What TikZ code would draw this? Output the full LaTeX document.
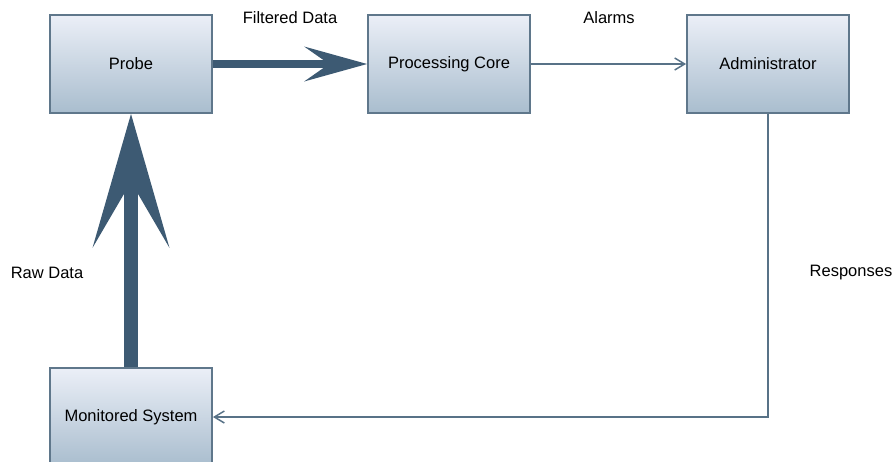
\documentclass[tikz,border=0pt]{standalone}
\usepackage{fontspec}
\setmainfont{Liberation Sans}
\usetikzlibrary{arrows.meta}
\definecolor{boxtop}{HTML}{EBEFF7}
\definecolor{boxbot}{HTML}{A9BDCE}
\definecolor{boxedge}{HTML}{5F778B}
\definecolor{flow}{HTML}{3D5A73}
\definecolor{thin}{HTML}{587287}
\tikzset{
  block/.style={draw=boxedge, line width=1.8pt, top color=boxtop, bottom color=boxbot,
    minimum width=162pt, minimum height=98pt, inner sep=0pt,
    font=\fontsize{16.5}{19}\selectfont, text=black},
  lbl/.style={font=\fontsize{16.5}{19}\selectfont, text=black, inner sep=0pt},
  bigflow/.style={draw=flow, line width=8pt, shorten >=30pt},
  hugeflow/.style={draw=flow, line width=14pt, shorten >=60pt},
  headfill/.style={fill=flow},
  thinflow/.style={draw=thin, line width=1.5pt,
    -{Straight Barb[length=10pt, width=12pt]}}
}
\begin{document}
\begin{tikzpicture}[x=1pt, y=-1pt]
  \useasboundingbox (0,0) rectangle (896,461);
  \node[block] (probe) at (131,64) {Probe};
  \node[block] (core) at (449,64) {Processing Core};
  \node[block] (admin) at (768,64) {Administrator};
  \node[block] (mon) at (131,417) {Monitored System};

  % filtered data: heavy flow with a large notched head
  \draw[bigflow] (probe.east) -- (core.west);
  \fill[headfill] (core.west) -- ++(-63,-17.5) -- ++(25,17.5) -- ++(-25,17.5) -- cycle;

  % raw data: heaviest flow, upwards into the probe
  \draw[hugeflow] (mon.north) -- (probe.south);
  \fill[headfill] (probe.south) -- ++(-38.5,134) -- ++(38.5,-66) -- ++(38.5,66) -- cycle;

  \draw[thinflow] (core.east) -- (admin.west);
  \draw[thinflow] (admin.south) |- (mon.east);

  \node[lbl] (lfilt) at (290,18) {Filtered Data};
  \node[lbl] (lalarm) at (609,18) {Alarms};
  \node[lbl] (lraw) at (47,273) {Raw Data};
  \node[lbl] (lresp) at (851,273) {Responses};
\end{tikzpicture}
\end{document}
